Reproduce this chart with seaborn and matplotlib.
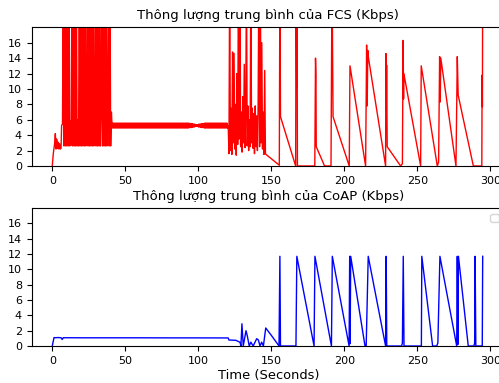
import numpy as np
import pandas as pd
import matplotlib
matplotlib.use("Agg")
import matplotlib.pyplot as plt
import seaborn as sns

# ---------------- texts and ticks ----------------
fcs_title = "Thông lượng trung bình của FCS (Kbps)"
coap_title = "Thông lượng trung bình của CoAP (Kbps)"
x_label = "Time (Seconds)"
x_ticks = [0, 50, 100, 150, 200, 250, 300]
y_ticks = [0, 2, 4, 6, 8, 10, 12, 14, 16]

# ---------------- FCS throughput (top panel) ----------------
# start-up phase
fcs_start_t = [0.0, 0.7, 1.6, 2.1, 2.6, 3.0, 3.5, 4.0, 4.5, 5.0, 5.5, 6.0, 6.4, 7.0]
fcs_start_v = [0.0, 1.6, 2.9, 4.2, 2.2, 3.5, 2.3, 3.1, 2.2, 2.9, 2.2, 2.3, 5.3, 5.4]

# burst phase, sampled every 0.5 s from 7.5 s to 40.5 s
fcs_burst_v = [25, 2.6, 25, 2.6, 25, 2.6, 25, 2.6, 25, 2.6,
               5.8, 2.7, 25, 2.6, 25, 2.6, 25, 2.6, 25, 2.6,
               6.0, 2.6, 25, 2.6, 25, 2.6, 25, 2.6, 25, 2.6,
               25, 2.6, 6.1, 25, 2.6, 25, 2.6, 25, 2.6, 25,
               2.6, 25, 2.6, 6.4, 25, 2.6, 25, 2.6, 25, 2.6,
               25, 2.6, 6.6, 25, 2.6, 25, 2.6, 25, 2.6, 25,
               2.6, 6.8, 25, 2.6, 25, 2.6, 7.0]

# steady phase, sampled every 0.25 s from 41 s to 120 s
fcs_steady_v = [
    4.95, 5.55, 4.95, 5.55, 4.95, 5.55, 4.95, 5.55, 4.95, 5.55, 4.95, 5.55, 4.95, 5.55, 4.95, 5.55, 4.95, 5.55, 4.95, 5.55,
    4.95, 5.55, 4.95, 5.55, 4.95, 5.55, 4.95, 5.55, 4.95, 5.55, 4.95, 5.55, 4.95, 5.55, 4.95, 5.55, 4.95, 5.55, 4.95, 5.55,
    4.95, 5.55, 4.95, 5.55, 4.95, 5.55, 4.95, 5.55, 4.95, 5.55, 4.95, 5.55, 4.95, 5.55, 4.95, 5.55, 4.95, 5.55, 4.95, 5.55,
    4.95, 5.55, 4.95, 5.55, 4.95, 5.55, 4.95, 5.55, 4.95, 5.55, 4.95, 5.55, 4.95, 5.55, 4.95, 5.55, 4.95, 5.55, 4.95, 5.55,
    4.95, 5.55, 4.95, 5.55, 4.95, 5.55, 4.95, 5.55, 4.95, 5.55, 4.95, 5.55, 4.95, 5.55, 4.95, 5.55, 4.95, 5.55, 4.95, 5.55,
    4.95, 5.55, 4.95, 5.55, 4.95, 5.55, 4.95, 5.55, 4.95, 5.55, 4.95, 5.55, 4.95, 5.55, 4.95, 5.55, 4.95, 5.55, 4.95, 5.55,
    4.95, 5.55, 4.95, 5.55, 4.95, 5.55, 4.95, 5.55, 4.95, 5.55, 4.95, 5.55, 4.95, 5.55, 4.95, 5.55, 4.95, 5.55, 4.95, 5.55,
    4.95, 5.55, 4.95, 5.55, 4.95, 5.55, 4.95, 5.55, 4.95, 5.55, 4.95, 5.55, 4.95, 5.55, 4.95, 5.55, 4.95, 5.55, 4.95, 5.55,
    4.95, 5.55, 4.95, 5.55, 4.95, 5.55, 4.95, 5.55, 4.95, 5.55, 4.95, 5.55, 4.95, 5.55, 4.95, 5.55, 4.95, 5.55, 4.95, 5.55,
    4.95, 5.55, 4.95, 5.55, 4.95, 5.55, 4.95, 5.55, 4.95, 5.55, 4.95, 5.55, 4.95, 5.55, 4.95, 5.55, 4.95, 5.55, 4.95, 5.55,
    4.95, 5.55, 4.95, 5.55, 4.95, 5.55, 4.95, 5.55, 4.95, 5.55, 4.95, 5.55, 5.0, 5.5, 5.0, 5.5, 5.0, 5.5, 5.0, 5.5,
    5.08, 5.42, 5.08, 5.42, 5.08, 5.42, 5.08, 5.42, 5.15, 5.35, 5.15, 5.35, 5.15, 5.35, 5.15, 5.35, 5.08, 5.42, 5.08, 5.42,
    5.08, 5.42, 5.08, 5.42, 5.0, 5.5, 5.0, 5.5, 5.0, 5.5, 5.0, 5.5, 4.95, 5.55, 4.95, 5.55, 4.95, 5.55, 4.95, 5.55,
    4.95, 5.55, 4.95, 5.55, 4.95, 5.55, 4.95, 5.55, 4.95, 5.55, 4.95, 5.55, 4.95, 5.55, 4.95, 5.55, 4.95, 5.55, 4.95, 5.55,
    4.95, 5.55, 4.95, 5.55, 4.95, 5.55, 4.95, 5.55, 4.95, 5.55, 4.95, 5.55, 4.95, 5.55, 4.95, 5.55, 4.95, 5.55, 4.95, 5.55,
    4.95, 5.55, 4.95, 5.55, 4.95, 5.55, 4.95, 5.55, 4.95, 5.55, 4.95, 5.55, 4.95, 5.55, 4.95, 5.55, 4.95,
]

# unstable phase, sampled every 0.5 s from 120.5 s to 146 s
fcs_unstable_v = [5.2, 1.6, 25, 2.0, 7.5, 1.5, 14.8, 3.0, 14.6, 2.2,
                  8.0, 1.4, 12.0, 2.8, 25, 3.5, 25, 2.5, 7.0, 1.8,
                  9.0, 3.0, 13.2, 2.4, 6.5, 25, 2.6, 7.8, 2.0, 6.0,
                  2.5, 25, 3.0, 7.5, 2.3, 6.8, 1.6, 7.8, 2.5, 6.5,
                  2.0, 7.9, 25, 2.5, 25, 3.0, 16.0, 2.2, 7.0, 1.5,
                  12.4, 1.6]

# sawtooth phase
fcs_tail_t = [146.4, 155.5, 155.9, 156.3, 166.7, 167.0, 167.4, 167.6, 167.9,
              179.8, 180.3, 180.6, 180.8, 186.5, 190.9, 191.6, 192.0, 192.3,
              203.4, 203.9, 214.6, 215.3, 215.7, 216.1, 216.6, 228.3, 228.5,
              228.8, 229.0, 229.4, 238.6, 239.8, 240.3, 240.6, 240.8, 252.3,
              252.7, 263.7, 264.6, 265.3, 265.7, 266.1, 276.5, 277.4, 278.0,
              288.4, 294.2, 294.4, 294.6, 294.8]
fcs_tail_v = [1.5, 0.1, 25, 6.4, 0.0, 25, 10.3, 25, 0.0,
              0.0, 14.0, 11.8, 2.5, 0.0, 0.0, 25, 13.1, 6.4,
              0.0, 13.0, 0.0, 15.7, 7.8, 15.0, 14.0, 0.0, 14.6,
              7.3, 13.1, 2.5, 0.0, 0.3, 16.3, 8.7, 12.0, 0.0,
              13.0, 0.0, 0.5, 14.2, 8.3, 14.0, 0.0, 14.2, 9.2,
              0.0, 0.0, 11.8, 7.7, 25]

# ---------------- CoAP throughput (bottom panel) ----------------
coap_t = [0.0, 1.2, 2.0, 4.0, 6.0, 6.8, 7.5, 20.0, 40.0, 60.0, 80.0, 100.0,
          120.5, 121.0, 125.8, 128.6, 129.2, 129.9, 130.8, 132.7, 133.6, 134.9,
          136.0, 137.6, 140.0, 141.1, 142.3, 143.4, 144.6, 146.2, 150.0, 155.3,
          155.9, 156.3, 166.9, 167.5, 179.3, 179.9, 191.2, 191.8, 203.3, 203.7,
          204.0, 204.4, 214.2, 215.0, 216.4, 228.3, 228.7, 229.1, 239.3, 239.8,
          240.4, 240.9, 252.8, 253.1, 260.5, 263.3, 264.1, 265.5, 277.0, 277.4,
          277.8, 278.2, 284.9, 288.8, 289.3, 289.6, 290.1, 294.5, 294.8]
coap_v = [0.0, 1.1, 1.08, 1.1, 1.08, 0.85, 1.08, 1.07, 1.07, 1.07, 1.06, 1.06,
          1.05, 0.78, 0.74, 0.48, 0.0, 2.9, 0.0, 2.0, 1.3, 0.0,
          0.5, 0.0, 0.95, 0.8, 0.0, 0.5, 0.0, 2.35, 1.4, 0.0,
          11.7, 0.0, 0.0, 11.7, 0.0, 11.7, 0.0, 11.7, 0.0, 11.7,
          0.3, 11.7, 0.0, 0.0, 11.7, 0.0, 11.7, 0.0, 0.0, 0.4,
          11.7, 0.0, 0.0, 11.7, 0.0, 0.0, 0.4, 11.7, 0.0, 11.7,
          0.2, 11.7, 0.0, 0.0, 0.4, 11.7, 0.0, 0.0, 11.7]

# sampling grids of the regularly sampled FCS phases
burst_t = np.arange(7.5, 40.75, 0.5)
steady_t = np.arange(41.0, 120.1, 0.25)
unstable_t = np.arange(120.5, 146.25, 0.5)

fcs = pd.DataFrame({
    "t": np.concatenate([fcs_start_t, burst_t, steady_t, unstable_t, fcs_tail_t]),
    "v": np.concatenate([fcs_start_v, fcs_burst_v, fcs_steady_v, fcs_unstable_v, fcs_tail_v]),
})
coap = pd.DataFrame({"t": coap_t, "v": coap_v})

plt.rcParams["font.family"] = ["DejaVu Sans"]

fig = plt.figure(figsize=(4.99, 3.83), dpi=100)
ax1 = fig.add_axes([0.0635, 0.5666, 0.9483, 0.3621])
ax2 = fig.add_axes([0.0635, 0.0966, 0.9483, 0.3603])

sns.lineplot(data=fcs, x="t", y="v", ax=ax1, color="red", linewidth=1.0,
             estimator=None, sort=False)
sns.lineplot(data=coap, x="t", y="v", ax=ax2, color="blue", linewidth=1.0,
             estimator=None, sort=False)

for ax, title in [(ax1, fcs_title), (ax2, coap_title)]:
    ax.set_xlim(-14.1, 310.0)
    ax.set_ylim(0, 18)
    ax.set_xticks(x_ticks)
    ax.set_yticks(y_ticks)
    ax.tick_params(labelsize=8)
    ax.set_title(title, fontsize=9.5)
    ax.set_ylabel("")
    ax.set_xlabel("")

ax2.set_xlabel(x_label, fontsize=9.4, labelpad=2)
ax2.legend(handles=[], labels=[], loc="upper right", fontsize=8)

fig.savefig("out.png", dpi=100)
